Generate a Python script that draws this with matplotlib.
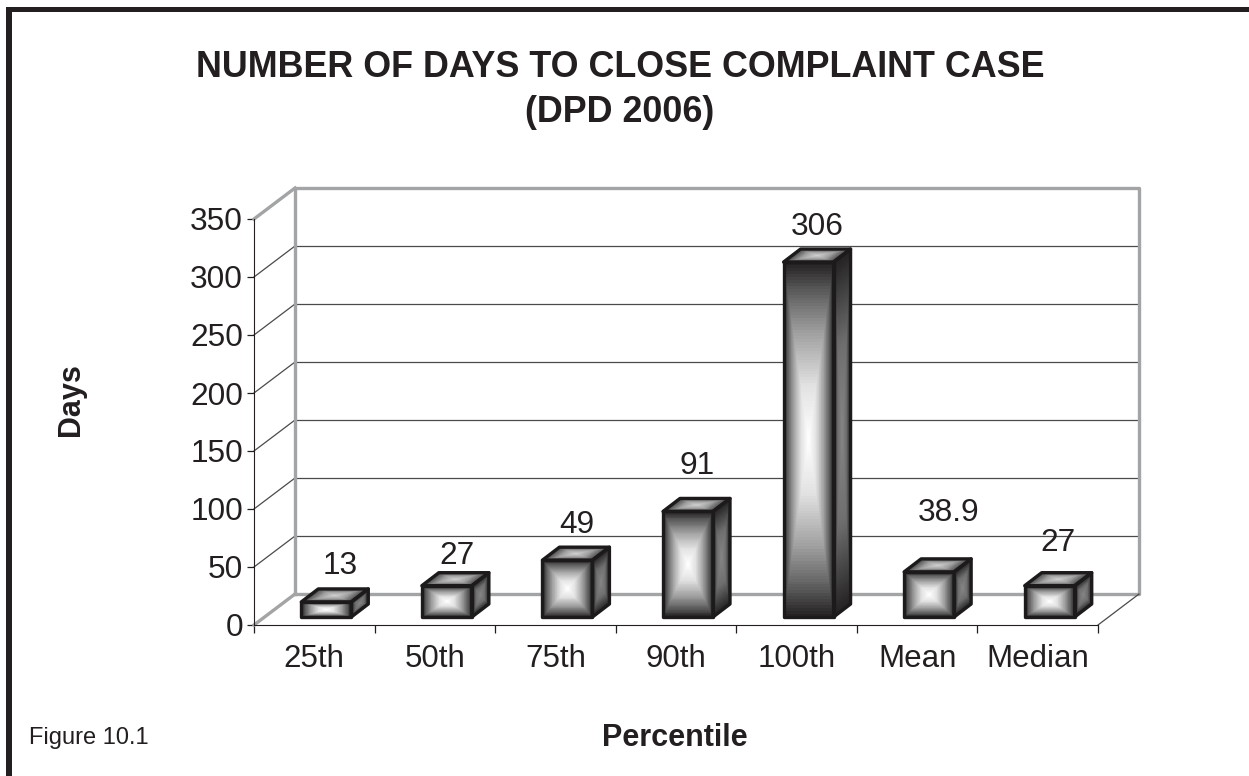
import numpy as np
import matplotlib
matplotlib.use("Agg")
import matplotlib.pyplot as plt
from matplotlib.colors import LinearSegmentedColormap
from matplotlib.patches import Rectangle, Polygon

categories = ["25th", "50th", "75th", "90th", "100th", "Mean", "Median"]
days = [13, 27, 49, 91, 306, 38.9, 27]
y_ticks = [0, 50, 100, 150, 200, 250, 300, 350]

plt.rcParams['font.family'] = ['Liberation Sans', 'DejaVu Sans']
INK = '#231f20'
GREY = '#a2a4a6'
W, H = 1249, 776

# depth of the fake 3d box, in data units (category / days)
DX = 41 / 120.57
DY = 31 / 1.16
BAR_W = 50 / 120.57
BAR_DX = 17 / 120.57
BAR_DY = 13 / 1.16

face_cmap = LinearSegmentedColormap.from_list(
    "face", [(0, '#ffffff'), (0.3, '#e2e2e2'), (0.6, '#a0a0a0'), (0.85, '#585858'), (1, '#231f20')])
side_cmap = LinearSegmentedColormap.from_list("side", [(0, '#858585'), (0.5, '#6e6e6e'), (1, '#232122')])
top_cmap = LinearSegmentedColormap.from_list("top", [(0, '#d0d0d0'), (0.5, '#a0a0a0'), (1, '#454344')])


def face(ax, p0, p1, p3, cmap):
    # p0 corner, p1 along u, p3 along v; box gradient from the middle outwards
    u = np.linspace(0, 1, 121)
    v = np.linspace(0, 1, 121)
    uu, vv = np.meshgrid(u, v)
    x = p0[0] + uu * (p1[0] - p0[0]) + vv * (p3[0] - p0[0])
    y = p0[1] + uu * (p1[1] - p0[1]) + vv * (p3[1] - p0[1])
    uc = (u[:-1] + u[1:]) / 2
    vc = (v[:-1] + v[1:]) / 2
    uuc, vvc = np.meshgrid(uc, vc)
    c = np.maximum(np.abs(uuc - 0.5), np.abs(vvc - 0.5)) * 2
    ax.pcolormesh(x, y, c, cmap=cmap, vmin=0, vmax=1, shading='flat', zorder=5, clip_on=False, rasterized=True)
    p2 = (p1[0] + p3[0] - p0[0], p1[1] + p3[1] - p0[1])
    ax.add_patch(Polygon([p0, p1, p2, p3], closed=True, fill=False, ec='#1c1a1b', lw=2.4,
                         joinstyle='round', zorder=6, clip_on=False))


fig = plt.figure(figsize=(W / 100, H / 100), dpi=100)
ax = fig.add_axes([254 / W, 1 - 625 / H, (1098 - 254) / W, (625 - 219) / H])

# back wall and gridlines
for t in y_ticks[1:-1]:
    ax.plot([DX, 7 + DX], [t + DY, t + DY], color='#4a4a4a', lw=0.9, zorder=1, clip_on=False)
    ax.plot([0, DX], [t, t + DY], color='#4a4a4a', lw=0.9, zorder=1, clip_on=False)
ax.plot([DX, DX, 7 + DX, 7 + DX, DX], [DY, 350 + DY, 350 + DY, DY, DY], color=GREY, lw=2.4, zorder=2, clip_on=False)
ax.plot([0, DX], [0, DY], color=GREY, lw=2.4, zorder=2, clip_on=False)
ax.plot([0, DX], [350, 350 + DY], color=GREY, lw=2.4, zorder=2, clip_on=False)
ax.plot([7, 7 + DX], [0, DY], color='#4a4a4a', lw=0.9, zorder=2, clip_on=False)

# bars
for i, val in enumerate(days):
    x0 = i + 0.5 - BAR_W / 2 + 12 / 120.57
    x1 = x0 + BAR_W
    y0 = 8 / 1.16
    y1 = y0 + val
    face(ax, (x1, y0), (x1 + BAR_DX, y0 + BAR_DY), (x1, y1), side_cmap)
    face(ax, (x0, y1), (x1, y1), (x0 + BAR_DX, y1 + BAR_DY), top_cmap)
    face(ax, (x0, y0), (x1, y0), (x0, y1), face_cmap)

# value labels, hand placed like the original
label_dx = [14, 10, 9, 9, 9, 19, 8]
label_dy = [36, 30, 35, 45, 35, 59, 43]
for i, val in enumerate(days):
    top = val + 8 / 1.16
    ax.annotate(f"{val:g}", (i + 0.5, top), xytext=(label_dx[i] * 0.72 + 12 * 0.72, label_dy[i] * 0.72),
                textcoords='offset points', ha='center', va='center', fontsize=22.8, color=INK,
                annotation_clip=False, zorder=7)

ax.set_xlim(0, 7)
ax.set_ylim(0, 350)
ax.set_xticks(np.arange(8))
ax.set_xticklabels([])
ax.set_xticks(np.arange(7) + 0.5, categories, minor=True)
ax.set_yticks(y_ticks)
ax.tick_params(axis='x', which='major', length=6, width=0.9, color=INK)
ax.tick_params(axis='x', which='minor', length=0, pad=14, labelsize=22.5, labelcolor=INK)
ax.tick_params(axis='y', length=5, width=0.9, color=INK, pad=3, labelsize=22.8, labelcolor=INK)
ax.patch.set_alpha(0)
for s in ['top', 'right']:
    ax.spines[s].set_visible(False)
ax.spines['left'].set_color(INK)
ax.spines['bottom'].set_color(INK)
ax.spines['left'].set_zorder(3)

# page frame, only left and top
fig.patches.append(Rectangle((6 / W, 0), 6 / W, 1 - 7 / H, transform=fig.transFigure, fc=INK, ec='none'))
fig.patches.append(Rectangle((6 / W, 1 - 12 / H), 1 - 6 / W, 5 / H, transform=fig.transFigure, fc=INK, ec='none'))

fig.text(620 / W, 1 - 90 / H, "NUMBER OF DAYS TO CLOSE COMPLAINT CASE\n(DPD 2006)", ha='center', va='center',
         fontsize=25.8, fontweight='bold', color=INK, linespacing=1.36)
fig.text(71 / W, 1 - 400 / H, "Days", rotation=90, ha='center', va='center', fontsize=22, fontweight='bold', color=INK)
fig.text(675 / W, 1 - 738 / H, "Percentile", ha='center', va='center', fontsize=22, fontweight='bold', color=INK)
fig.text(29 / W, 1 - 738 / H, "Figure 10.1", ha='left', va='center', fontsize=17, color=INK)

plt.savefig("out.png", dpi=100)
